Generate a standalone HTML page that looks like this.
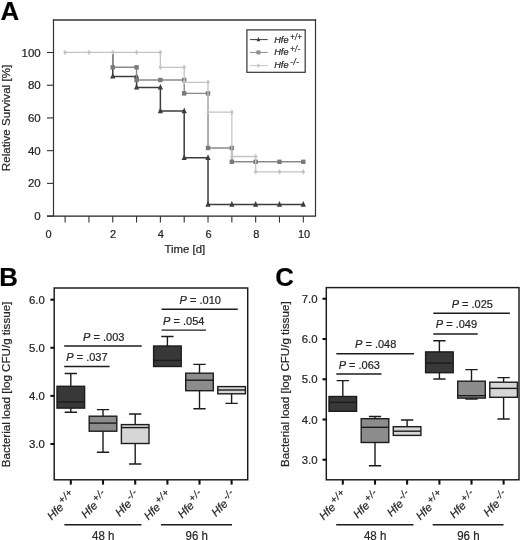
<!DOCTYPE html>
<html><head><meta charset="utf-8"><style>
html,body{margin:0;padding:0;background:#fff;width:520px;height:540px;overflow:hidden}
svg{display:block;filter:grayscale(100%)}
text{font-family:"Liberation Sans", sans-serif;stroke:#2a2a2a;stroke-width:0.22px}
</style></head><body>
<svg width="520" height="540" viewBox="0 0 520 540">
<rect width="520" height="540" fill="#fff"/>
<text x="0.5" y="19.8" font-size="25.8" font-weight="bold" fill="#000">A</text>
<text x="-0.7" y="285.6" font-size="25.8" font-weight="bold" fill="#000">B</text>
<text x="275.2" y="286.2" font-size="25.8" font-weight="bold" fill="#000">C</text>
<path d="M53.5 216.0 V19.2 M315.5 19.2 V216.0" fill="none" stroke="#333" stroke-width="1.2"/>
<path d="M52.9 20 H316.1" stroke="#333" stroke-width="1.7"/>
<path d="M47 216.1 H316.1" stroke="#222" stroke-width="1.4"/>
<path d="M47 52.50 H53.5" stroke="#333" stroke-width="1.1"/>
<text x="40.7" y="56.60" font-size="11.5" text-anchor="end" fill="#222">100</text>
<path d="M47 85.22 H53.5" stroke="#333" stroke-width="1.1"/>
<text x="40.7" y="89.32" font-size="11.5" text-anchor="end" fill="#222">80</text>
<path d="M47 117.94 H53.5" stroke="#333" stroke-width="1.1"/>
<text x="40.7" y="122.04" font-size="11.5" text-anchor="end" fill="#222">60</text>
<path d="M47 150.66 H53.5" stroke="#333" stroke-width="1.1"/>
<text x="40.7" y="154.76" font-size="11.5" text-anchor="end" fill="#222">40</text>
<path d="M47 183.38 H53.5" stroke="#333" stroke-width="1.1"/>
<text x="40.7" y="187.48" font-size="11.5" text-anchor="end" fill="#222">20</text>
<path d="M47 216.10 H53.5" stroke="#333" stroke-width="1.1"/>
<text x="40.7" y="220.20" font-size="11.5" text-anchor="end" fill="#222">0</text>
<path d="M65.10 216.0 V222.6" stroke="#333" stroke-width="1.1"/>
<path d="M88.92 216.0 V222.6" stroke="#333" stroke-width="1.1"/>
<path d="M112.74 216.0 V222.6" stroke="#333" stroke-width="1.1"/>
<path d="M136.56 216.0 V222.6" stroke="#333" stroke-width="1.1"/>
<path d="M160.38 216.0 V222.6" stroke="#333" stroke-width="1.1"/>
<path d="M184.20 216.0 V222.6" stroke="#333" stroke-width="1.1"/>
<path d="M208.02 216.0 V222.6" stroke="#333" stroke-width="1.1"/>
<path d="M231.84 216.0 V222.6" stroke="#333" stroke-width="1.1"/>
<path d="M255.66 216.0 V222.6" stroke="#333" stroke-width="1.1"/>
<path d="M279.48 216.0 V222.6" stroke="#333" stroke-width="1.1"/>
<path d="M303.30 216.0 V222.6" stroke="#333" stroke-width="1.1"/>
<text x="48.6" y="238.3" font-size="11" text-anchor="middle" fill="#222">0</text>
<text x="113" y="238.3" font-size="11" text-anchor="middle" fill="#222">2</text>
<text x="160.7" y="238.3" font-size="11" text-anchor="middle" fill="#222">4</text>
<text x="208.6" y="238.3" font-size="11" text-anchor="middle" fill="#222">6</text>
<text x="256.2" y="238.3" font-size="11" text-anchor="middle" fill="#222">8</text>
<text x="304" y="238.3" font-size="11" text-anchor="middle" fill="#222">10</text>
<text x="184.8" y="252.8" font-size="11.4" text-anchor="middle" fill="#222">Time [d]</text>
<text transform="translate(10.2 118) rotate(-90)" font-size="11.6" text-anchor="middle" fill="#222">Relative Survival [%]</text>
<path d="M112.74 52.40 L112.74 76.40 L136.56 76.40 L136.56 87.40 L160.38 87.40 L160.38 111.00 L184.20 111.00 L184.20 157.80 L208.02 157.80 L208.02 204.50 L231.84 204.50 L255.66 204.50 L279.48 204.50 L303.30 204.50" fill="none" stroke="#3c3c3c" stroke-width="1.5" stroke-linejoin="miter"/>
<path d="M112.74 72.89 L115.34 78.61 L110.14 78.61Z" fill="#3c3c3c"/>
<path d="M136.56 72.89 L139.16 78.61 L133.96 78.61Z" fill="#3c3c3c"/>
<path d="M136.56 83.89 L139.16 89.61 L133.96 89.61Z" fill="#3c3c3c"/>
<path d="M160.38 83.89 L162.98 89.61 L157.78 89.61Z" fill="#3c3c3c"/>
<path d="M160.38 107.49 L162.98 113.21 L157.78 113.21Z" fill="#3c3c3c"/>
<path d="M184.20 107.49 L186.80 113.21 L181.60 113.21Z" fill="#3c3c3c"/>
<path d="M184.20 154.29 L186.80 160.01 L181.60 160.01Z" fill="#3c3c3c"/>
<path d="M208.02 154.29 L210.62 160.01 L205.42 160.01Z" fill="#3c3c3c"/>
<path d="M208.02 200.99 L210.62 206.71 L205.42 206.71Z" fill="#3c3c3c"/>
<path d="M231.84 200.99 L234.44 206.71 L229.24 206.71Z" fill="#3c3c3c"/>
<path d="M255.66 200.99 L258.26 206.71 L253.06 206.71Z" fill="#3c3c3c"/>
<path d="M279.48 200.99 L282.08 206.71 L276.88 206.71Z" fill="#3c3c3c"/>
<path d="M303.30 200.99 L305.90 206.71 L300.70 206.71Z" fill="#3c3c3c"/>
<path d="M112.74 52.40 L112.74 67.30 L136.56 67.30 L136.56 80.00 L160.38 80.00 L184.20 80.00 L184.20 93.40 L208.02 93.40 L208.02 148.00 L231.84 148.00 L231.84 161.80 L255.66 161.80 L279.48 161.80 L303.30 161.80" fill="none" stroke="#8a8a8a" stroke-width="1.4" stroke-linejoin="miter"/>
<rect x="110.54" y="65.10" width="4.40" height="4.40" fill="#7a7a7a"/>
<rect x="134.36" y="65.10" width="4.40" height="4.40" fill="#7a7a7a"/>
<rect x="134.36" y="77.80" width="4.40" height="4.40" fill="#7a7a7a"/>
<rect x="158.18" y="77.80" width="4.40" height="4.40" fill="#7a7a7a"/>
<rect x="182.00" y="77.80" width="4.40" height="4.40" fill="#7a7a7a"/>
<rect x="182.00" y="91.20" width="4.40" height="4.40" fill="#7a7a7a"/>
<rect x="205.82" y="91.20" width="4.40" height="4.40" fill="#7a7a7a"/>
<rect x="205.82" y="145.80" width="4.40" height="4.40" fill="#7a7a7a"/>
<rect x="229.64" y="145.80" width="4.40" height="4.40" fill="#7a7a7a"/>
<rect x="229.64" y="159.60" width="4.40" height="4.40" fill="#7a7a7a"/>
<rect x="253.46" y="159.60" width="4.40" height="4.40" fill="#7a7a7a"/>
<rect x="277.28" y="159.60" width="4.40" height="4.40" fill="#7a7a7a"/>
<rect x="301.10" y="159.60" width="4.40" height="4.40" fill="#7a7a7a"/>
<path d="M65.10 52.40 L88.92 52.40 L112.74 52.40 L136.56 52.40 L160.38 52.40 L160.38 67.30 L184.20 67.30 L184.20 82.30 L208.02 82.30 L208.02 112.20 L231.84 112.20 L231.84 156.50 L255.66 156.50 L255.66 171.80 L279.48 171.80 L303.30 171.80" fill="none" stroke="#c4c4c4" stroke-width="1.3" stroke-linejoin="miter"/>
<path d="M65.10 49.70 L67.00 52.40 L65.10 55.10 L63.20 52.40Z" fill="#c4c4c4"/>
<path d="M88.92 49.70 L90.82 52.40 L88.92 55.10 L87.02 52.40Z" fill="#c4c4c4"/>
<path d="M112.74 49.70 L114.64 52.40 L112.74 55.10 L110.84 52.40Z" fill="#c4c4c4"/>
<path d="M136.56 49.70 L138.46 52.40 L136.56 55.10 L134.66 52.40Z" fill="#c4c4c4"/>
<path d="M160.38 49.70 L162.28 52.40 L160.38 55.10 L158.48 52.40Z" fill="#c4c4c4"/>
<path d="M160.38 64.60 L162.28 67.30 L160.38 70.00 L158.48 67.30Z" fill="#c4c4c4"/>
<path d="M184.20 64.60 L186.10 67.30 L184.20 70.00 L182.30 67.30Z" fill="#c4c4c4"/>
<path d="M184.20 79.60 L186.10 82.30 L184.20 85.00 L182.30 82.30Z" fill="#c4c4c4"/>
<path d="M208.02 79.60 L209.92 82.30 L208.02 85.00 L206.12 82.30Z" fill="#c4c4c4"/>
<path d="M208.02 109.50 L209.92 112.20 L208.02 114.90 L206.12 112.20Z" fill="#c4c4c4"/>
<path d="M231.84 109.50 L233.74 112.20 L231.84 114.90 L229.94 112.20Z" fill="#c4c4c4"/>
<path d="M231.84 153.80 L233.74 156.50 L231.84 159.20 L229.94 156.50Z" fill="#c4c4c4"/>
<path d="M255.66 153.80 L257.56 156.50 L255.66 159.20 L253.76 156.50Z" fill="#c4c4c4"/>
<path d="M255.66 169.10 L257.56 171.80 L255.66 174.50 L253.76 171.80Z" fill="#c4c4c4"/>
<path d="M279.48 169.10 L281.38 171.80 L279.48 174.50 L277.58 171.80Z" fill="#c4c4c4"/>
<path d="M303.30 169.10 L305.20 171.80 L303.30 174.50 L301.40 171.80Z" fill="#c4c4c4"/>
<rect x="246.9" y="29.9" width="58.3" height="42.4" fill="#fff" stroke="#333" stroke-width="1.2"/>
<path d="M250 39.6 H267.7" stroke="#3c3c3c" stroke-width="1"/>
<path d="M258.40 37.04 L260.30 41.22 L256.50 41.22Z" fill="#3c3c3c"/>
<text x="274.2" y="42.9" font-size="9.2" font-style="italic" fill="#222">Hfe</text>
<text x="290.2" y="39.80" font-size="8.4" font-style="italic" letter-spacing="0.6" textLength="12.2" lengthAdjust="spacingAndGlyphs" fill="#222">+/+</text>
<path d="M250 52.4 H267.7" stroke="#8a8a8a" stroke-width="1"/>
<rect x="256.45" y="50.45" width="3.90" height="3.90" fill="#8a8a8a"/>
<text x="274.2" y="55.3" font-size="9.2" font-style="italic" fill="#222">Hfe</text>
<text x="290.2" y="52.20" font-size="8.4" font-style="italic" letter-spacing="0.6" textLength="10.6" lengthAdjust="spacingAndGlyphs" fill="#222">+/-</text>
<path d="M250 65.6 H267.7" stroke="#c4c4c4" stroke-width="1"/>
<path d="M258.40 63.30 L260.10 65.60 L258.40 67.90 L256.70 65.60Z" fill="#c4c4c4"/>
<text x="274.2" y="67.9" font-size="9.2" font-style="italic" fill="#222">Hfe</text>
<text x="290.2" y="64.80" font-size="8.4" font-style="italic" letter-spacing="0.6" textLength="9.4" lengthAdjust="spacingAndGlyphs" fill="#222">-/-</text>
<rect x="54.2" y="288" width="193.5" height="191.8" fill="none" stroke="#1a1a1a" stroke-width="1.45"/>
<path d="M50.400000000000006 299.70 H54.2" stroke="#111" stroke-width="2.1"/>
<text x="44.8" y="303.80" font-size="11.4" text-anchor="end" fill="#222">6.0</text>
<path d="M50.400000000000006 347.80 H54.2" stroke="#111" stroke-width="2.1"/>
<text x="44.8" y="351.90" font-size="11.4" text-anchor="end" fill="#222">5.0</text>
<path d="M50.400000000000006 395.90 H54.2" stroke="#111" stroke-width="2.1"/>
<text x="44.8" y="400.00" font-size="11.4" text-anchor="end" fill="#222">4.0</text>
<path d="M50.400000000000006 444.00 H54.2" stroke="#111" stroke-width="2.1"/>
<text x="44.8" y="448.10" font-size="11.4" text-anchor="end" fill="#222">3.0</text>
<path d="M70.80 479.8 V484.6" stroke="#111" stroke-width="2.1"/>
<path d="M103.00 479.8 V484.6" stroke="#111" stroke-width="2.1"/>
<path d="M135.20 479.8 V484.6" stroke="#111" stroke-width="2.1"/>
<path d="M167.40 479.8 V484.6" stroke="#111" stroke-width="2.1"/>
<path d="M199.50 479.8 V484.6" stroke="#111" stroke-width="2.1"/>
<path d="M231.60 479.8 V484.6" stroke="#111" stroke-width="2.1"/>
<path d="M70.80 386.3 V373.5 M64.65 373.5 H76.95" stroke="#1c1c1c" stroke-width="1.4" fill="none"/>
<path d="M70.80 408.1 V412.3 M64.65 412.3 H76.95" stroke="#1c1c1c" stroke-width="1.4" fill="none"/>
<rect x="57.00" y="386.3" width="27.6" height="21.80" fill="#383838" stroke="#1c1c1c" stroke-width="1.4"/>
<path d="M57.00 401.9 H84.60" stroke="#1c1c1c" stroke-width="1.4"/>
<path d="M103.00 416.2 V409.6 M96.85 409.6 H109.15" stroke="#1c1c1c" stroke-width="1.4" fill="none"/>
<path d="M103.00 431.2 V452.3 M96.85 452.3 H109.15" stroke="#1c1c1c" stroke-width="1.4" fill="none"/>
<rect x="89.20" y="416.2" width="27.6" height="15.00" fill="#8c8c8c" stroke="#1c1c1c" stroke-width="1.4"/>
<path d="M89.20 423.1 H116.80" stroke="#1c1c1c" stroke-width="1.4"/>
<path d="M135.20 424.6 V414 M129.05 414 H141.35" stroke="#1c1c1c" stroke-width="1.4" fill="none"/>
<path d="M135.20 443.5 V464 M129.05 464 H141.35" stroke="#1c1c1c" stroke-width="1.4" fill="none"/>
<rect x="121.40" y="424.6" width="27.6" height="18.90" fill="#d6d6d6" stroke="#1c1c1c" stroke-width="1.4"/>
<path d="M121.40 427.6 H149.00" stroke="#1c1c1c" stroke-width="1.4"/>
<path d="M167.40 346 V336.5 M161.25 336.5 H173.55" stroke="#1c1c1c" stroke-width="1.4" fill="none"/>
<rect x="153.60" y="346" width="27.6" height="20.50" fill="#383838" stroke="#1c1c1c" stroke-width="1.4"/>
<path d="M153.60 360.4 H181.20" stroke="#1c1c1c" stroke-width="1.4"/>
<path d="M199.50 373.2 V364.4 M193.35 364.4 H205.65" stroke="#1c1c1c" stroke-width="1.4" fill="none"/>
<path d="M199.50 390.7 V408.7 M193.35 408.7 H205.65" stroke="#1c1c1c" stroke-width="1.4" fill="none"/>
<rect x="185.70" y="373.2" width="27.6" height="17.50" fill="#8c8c8c" stroke="#1c1c1c" stroke-width="1.4"/>
<path d="M185.70 380.2 H213.30" stroke="#1c1c1c" stroke-width="1.4"/>
<path d="M231.60 393.8 V403.4 M225.45 403.4 H237.75" stroke="#1c1c1c" stroke-width="1.4" fill="none"/>
<rect x="217.80" y="386.6" width="27.6" height="7.20" fill="#d6d6d6" stroke="#1c1c1c" stroke-width="1.4"/>
<path d="M217.80 390 H245.40" stroke="#1c1c1c" stroke-width="1.4"/>
<path d="M64.2 366.5 H109.6" stroke="#1c1c1c" stroke-width="1.4"/>
<text x="66.3" y="361.30" font-size="11" fill="#222"><tspan font-style="italic">P</tspan> = .037</text>
<path d="M64.2 346 H141.7" stroke="#1c1c1c" stroke-width="1.4"/>
<text x="83.1" y="340.80" font-size="11" fill="#222"><tspan font-style="italic">P</tspan> = .003</text>
<path d="M161.6 330.1 H206" stroke="#1c1c1c" stroke-width="1.4"/>
<text x="163.1" y="324.90" font-size="11" fill="#222"><tspan font-style="italic">P</tspan> = .054</text>
<path d="M161.6 309.2 H237.8" stroke="#1c1c1c" stroke-width="1.4"/>
<text x="179.6" y="304.00" font-size="11" fill="#222"><tspan font-style="italic">P</tspan> = .010</text>
<text transform="translate(10.2 384.5) rotate(-90)" font-size="11.6" text-anchor="middle" fill="#222">Bacterial load [log CFU/g tissue]</text>
<text transform="translate(76.30 495.90000000000003) rotate(-45)" font-size="11.3" font-style="italic" text-anchor="end" fill="#222">Hfe<tspan dx="1.4" dy="-4.4" font-size="9.8" font-style="italic" letter-spacing="0.5">+/+</tspan></text>
<text transform="translate(108.50 495.90000000000003) rotate(-45)" font-size="11.3" font-style="italic" text-anchor="end" fill="#222">Hfe<tspan dx="1.4" dy="-4.4" font-size="9.8" font-style="italic" letter-spacing="0.5">+/-</tspan></text>
<text transform="translate(140.70 495.90000000000003) rotate(-45)" font-size="11.3" font-style="italic" text-anchor="end" fill="#222">Hfe<tspan dx="1.4" dy="-4.4" font-size="9.8" font-style="italic" letter-spacing="0.5">-/-</tspan></text>
<text transform="translate(172.90 495.90000000000003) rotate(-45)" font-size="11.3" font-style="italic" text-anchor="end" fill="#222">Hfe<tspan dx="1.4" dy="-4.4" font-size="9.8" font-style="italic" letter-spacing="0.5">+/+</tspan></text>
<text transform="translate(205.00 495.90000000000003) rotate(-45)" font-size="11.3" font-style="italic" text-anchor="end" fill="#222">Hfe<tspan dx="1.4" dy="-4.4" font-size="9.8" font-style="italic" letter-spacing="0.5">+/-</tspan></text>
<text transform="translate(237.10 495.90000000000003) rotate(-45)" font-size="11.3" font-style="italic" text-anchor="end" fill="#222">Hfe<tspan dx="1.4" dy="-4.4" font-size="9.8" font-style="italic" letter-spacing="0.5">-/-</tspan></text>
<path d="M64.4 524.8 H141.5" stroke="#1c1c1c" stroke-width="1.4"/>
<text x="103.25" y="540.1" font-size="12.8" textLength="22.4" lengthAdjust="spacingAndGlyphs" text-anchor="middle" fill="#222">48 h</text>
<path d="M161 524.8 H232" stroke="#1c1c1c" stroke-width="1.4"/>
<text x="196.80" y="540.1" font-size="12.8" textLength="22.4" lengthAdjust="spacingAndGlyphs" text-anchor="middle" fill="#222">96 h</text>
<rect x="326.3" y="287.6" width="192.7" height="192.2" fill="none" stroke="#1a1a1a" stroke-width="1.45"/>
<path d="M322.5 298.75 H326.3" stroke="#111" stroke-width="2.1"/>
<text x="317.5" y="302.85" font-size="11.4" text-anchor="end" fill="#222">7.0</text>
<path d="M322.5 339.00 H326.3" stroke="#111" stroke-width="2.1"/>
<text x="317.5" y="343.10" font-size="11.4" text-anchor="end" fill="#222">6.0</text>
<path d="M322.5 379.25 H326.3" stroke="#111" stroke-width="2.1"/>
<text x="317.5" y="383.35" font-size="11.4" text-anchor="end" fill="#222">5.0</text>
<path d="M322.5 419.50 H326.3" stroke="#111" stroke-width="2.1"/>
<text x="317.5" y="423.60" font-size="11.4" text-anchor="end" fill="#222">4.0</text>
<path d="M322.5 459.75 H326.3" stroke="#111" stroke-width="2.1"/>
<text x="317.5" y="463.85" font-size="11.4" text-anchor="end" fill="#222">3.0</text>
<path d="M342.80 479.8 V484.6" stroke="#111" stroke-width="2.1"/>
<path d="M375.00 479.8 V484.6" stroke="#111" stroke-width="2.1"/>
<path d="M407.10 479.8 V484.6" stroke="#111" stroke-width="2.1"/>
<path d="M439.40 479.8 V484.6" stroke="#111" stroke-width="2.1"/>
<path d="M471.50 479.8 V484.6" stroke="#111" stroke-width="2.1"/>
<path d="M503.60 479.8 V484.6" stroke="#111" stroke-width="2.1"/>
<path d="M342.80 396.5 V380.6 M336.65 380.6 H348.95" stroke="#1c1c1c" stroke-width="1.4" fill="none"/>
<rect x="329.00" y="396.5" width="27.6" height="14.80" fill="#383838" stroke="#1c1c1c" stroke-width="1.4"/>
<path d="M329.00 402.3 H356.60" stroke="#1c1c1c" stroke-width="1.4"/>
<path d="M375.00 418.7 V416.5 M368.85 416.5 H381.15" stroke="#1c1c1c" stroke-width="1.4" fill="none"/>
<path d="M375.00 442.5 V465.8 M368.85 465.8 H381.15" stroke="#1c1c1c" stroke-width="1.4" fill="none"/>
<rect x="361.20" y="418.7" width="27.6" height="23.80" fill="#8c8c8c" stroke="#1c1c1c" stroke-width="1.4"/>
<path d="M361.20 427.3 H388.80" stroke="#1c1c1c" stroke-width="1.4"/>
<path d="M407.10 426.7 V420 M400.95 420 H413.25" stroke="#1c1c1c" stroke-width="1.4" fill="none"/>
<rect x="393.30" y="426.7" width="27.6" height="8.70" fill="#d6d6d6" stroke="#1c1c1c" stroke-width="1.4"/>
<path d="M393.30 431.2 H420.90" stroke="#1c1c1c" stroke-width="1.4"/>
<path d="M439.40 351.9 V340.7 M433.25 340.7 H445.55" stroke="#1c1c1c" stroke-width="1.4" fill="none"/>
<path d="M439.40 372.7 V379 M433.25 379 H445.55" stroke="#1c1c1c" stroke-width="1.4" fill="none"/>
<rect x="425.60" y="351.9" width="27.6" height="20.80" fill="#383838" stroke="#1c1c1c" stroke-width="1.4"/>
<path d="M425.60 363.1 H453.20" stroke="#1c1c1c" stroke-width="1.4"/>
<path d="M471.50 381.2 V369.6 M465.35 369.6 H477.65" stroke="#1c1c1c" stroke-width="1.4" fill="none"/>
<path d="M471.50 398.1 V399 M465.35 399 H477.65" stroke="#1c1c1c" stroke-width="1.4" fill="none"/>
<rect x="457.70" y="381.2" width="27.6" height="16.90" fill="#8c8c8c" stroke="#1c1c1c" stroke-width="1.4"/>
<path d="M457.70 395.7 H485.30" stroke="#1c1c1c" stroke-width="1.4"/>
<path d="M503.60 382.2 V377.6 M497.45 377.6 H509.75" stroke="#1c1c1c" stroke-width="1.4" fill="none"/>
<path d="M503.60 397.3 V419 M497.45 419 H509.75" stroke="#1c1c1c" stroke-width="1.4" fill="none"/>
<rect x="489.80" y="382.2" width="27.6" height="15.10" fill="#d6d6d6" stroke="#1c1c1c" stroke-width="1.4"/>
<path d="M489.80 388.4 H517.40" stroke="#1c1c1c" stroke-width="1.4"/>
<path d="M336.3 374 H381.5" stroke="#1c1c1c" stroke-width="1.4"/>
<text x="338.7" y="368.80" font-size="11" fill="#222"><tspan font-style="italic">P</tspan> = .063</text>
<path d="M336.3 353.7 H414" stroke="#1c1c1c" stroke-width="1.4"/>
<text x="355" y="347.60" font-size="11" fill="#222"><tspan font-style="italic">P</tspan> = .048</text>
<path d="M433.3 334 H477.7" stroke="#1c1c1c" stroke-width="1.4"/>
<text x="435.8" y="328.10" font-size="11" fill="#222"><tspan font-style="italic">P</tspan> = .049</text>
<path d="M433.3 313.2 H509.9" stroke="#1c1c1c" stroke-width="1.4"/>
<text x="451.7" y="307.80" font-size="11" fill="#222"><tspan font-style="italic">P</tspan> = .025</text>
<text transform="translate(289.2 384.2) rotate(-90)" font-size="11.6" text-anchor="middle" fill="#222">Bacterial load [log CFU/g tissue]</text>
<text transform="translate(348.30 495.90000000000003) rotate(-45)" font-size="11.3" font-style="italic" text-anchor="end" fill="#222">Hfe<tspan dx="1.4" dy="-4.4" font-size="9.8" font-style="italic" letter-spacing="0.5">+/+</tspan></text>
<text transform="translate(380.50 495.90000000000003) rotate(-45)" font-size="11.3" font-style="italic" text-anchor="end" fill="#222">Hfe<tspan dx="1.4" dy="-4.4" font-size="9.8" font-style="italic" letter-spacing="0.5">+/-</tspan></text>
<text transform="translate(412.60 495.90000000000003) rotate(-45)" font-size="11.3" font-style="italic" text-anchor="end" fill="#222">Hfe<tspan dx="1.4" dy="-4.4" font-size="9.8" font-style="italic" letter-spacing="0.5">-/-</tspan></text>
<text transform="translate(444.90 495.90000000000003) rotate(-45)" font-size="11.3" font-style="italic" text-anchor="end" fill="#222">Hfe<tspan dx="1.4" dy="-4.4" font-size="9.8" font-style="italic" letter-spacing="0.5">+/+</tspan></text>
<text transform="translate(477.00 495.90000000000003) rotate(-45)" font-size="11.3" font-style="italic" text-anchor="end" fill="#222">Hfe<tspan dx="1.4" dy="-4.4" font-size="9.8" font-style="italic" letter-spacing="0.5">+/-</tspan></text>
<text transform="translate(509.10 495.90000000000003) rotate(-45)" font-size="11.3" font-style="italic" text-anchor="end" fill="#222">Hfe<tspan dx="1.4" dy="-4.4" font-size="9.8" font-style="italic" letter-spacing="0.5">-/-</tspan></text>
<path d="M336.2 524.8 H413.5" stroke="#1c1c1c" stroke-width="1.4"/>
<text x="375.15" y="540.1" font-size="12.8" textLength="22.4" lengthAdjust="spacingAndGlyphs" text-anchor="middle" fill="#222">48 h</text>
<path d="M432.7 524.8 H503.5" stroke="#1c1c1c" stroke-width="1.4"/>
<text x="468.40" y="540.1" font-size="12.8" textLength="22.4" lengthAdjust="spacingAndGlyphs" text-anchor="middle" fill="#222">96 h</text>
</svg>
</body></html>
